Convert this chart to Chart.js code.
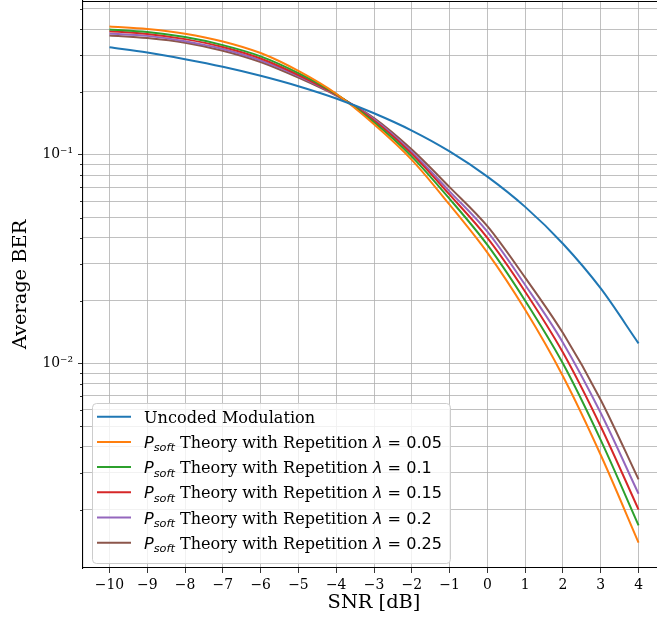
<!DOCTYPE html>
<html>
<head>
<meta charset="utf-8">
<script src="https://cdn.jsdelivr.net/npm/chart.js@4"></script>
<style>
  html, body { margin: 0; padding: 0; background: #fff; overflow: hidden; }
  #wrap { width: 657px; height: 619px; overflow: hidden; }
</style>
</head>
<body>
<div id="wrap"><canvas id="berChart" width="680" height="619"></canvas></div>
<script>
const snr = [-10, -9, -8, -7, -6, -5, -4, -3, -2, -1, 0, 1, 2, 3, 4];
const snrTicks = [-10, -9, -8, -7, -6, -5, -4, -3, -2, -1, 0, 1, 2, 3, 4];

const uncoded = [0.327, 0.309, 0.287, 0.264, 0.239, 0.213, 0.186, 0.158, 0.1306, 0.1038, 0.0786, 0.0563, 0.0375, 0.0229, 0.0125];

const lambdas = [0.05, 0.1, 0.15, 0.2, 0.25];
const soft005 = [0.411, 0.400, 0.380, 0.349, 0.307, 0.252, 0.196, 0.140, 0.0946, 0.0577, 0.0340, 0.0181, 0.0087, 0.00365, 0.00139];
const soft010 = [0.398, 0.387, 0.366, 0.335, 0.296, 0.246, 0.195, 0.143, 0.098, 0.0615, 0.0370, 0.0200, 0.0100, 0.0043, 0.00168];
const soft015 = [0.390, 0.379, 0.358, 0.328, 0.289, 0.241, 0.194, 0.146, 0.101, 0.0644, 0.0400, 0.0221, 0.0113, 0.0050, 0.0020];
const soft020 = [0.381, 0.371, 0.350, 0.321, 0.283, 0.238, 0.193, 0.148, 0.103, 0.0668, 0.0428, 0.0238, 0.0126, 0.0058, 0.00238];
const soft025 = [0.373, 0.362, 0.344, 0.315, 0.278, 0.234, 0.192, 0.150, 0.106, 0.0700, 0.0455, 0.0258, 0.0140, 0.0067, 0.00279];

const yDecades = [0.001, 0.01, 0.1];
const yMantissas = [1, 2, 3, 4, 5, 6, 7, 8, 9];
const yMin = 0.00105, yMax = 0.545;

const colors = ['#1f77b4', '#ff7f0e', '#2ca02c', '#d62728', '#9467bd', '#8c564b'];
const serif = "'DejaVu Serif', serif";
const sans = "'DejaVu Sans', sans-serif";

const supDigits = { '-': '\u207b', '0': '\u2070', '1': '\u00b9', '2': '\u00b2', '3': '\u00b3' };
function powLabel(v) {
  const e = Math.round(Math.log10(v));
  return '10' + String(e).split('').map(c => supDigits[c]).join('');
}
function isDecade(v) {
  const e = Math.log10(v);
  return Math.abs(e - Math.round(e)) < 1e-9;
}

// every 1..9 x 10^k inside the axis range
const yTickValues = [];
yDecades.forEach(d => yMantissas.forEach(m => {
  const v = +(m * d).toPrecision(3);
  if (v >= yMin && v <= yMax) yTickValues.push(v);
}));

const seriesList = [uncoded, soft005, soft010, soft015, soft020, soft025];
const datasets = seriesList.map((vals, i) => ({
  label: i === 0 ? 'Uncoded Modulation' : 'P_soft Theory with Repetition \u03bb = ' + lambdas[i - 1],
  data: snr.map((x, j) => ({ x, y: vals[j] })),
  borderColor: colors[i],
  backgroundColor: colors[i],
  borderWidth: 2,
  pointRadius: 0,
  cubicInterpolationMode: 'monotone',
  fill: false
}));

const extras = {
  id: 'extras',
  afterDraw(chart) {
    const ctx = chart.ctx;
    const area = chart.chartArea;
    const y = chart.scales.y;
    ctx.save();

    // top spine
    ctx.strokeStyle = '#000';
    ctx.lineWidth = 1.1;
    ctx.beginPath();
    ctx.moveTo(area.left, area.top + 0.5);
    ctx.lineTo(area.right, area.top + 0.5);
    ctx.stroke();

    // short minor ticks on the log axis
    ctx.lineWidth = 0.8;
    yTickValues.filter(v => !isDecade(v)).forEach(v => {
      const py = Math.round(y.getPixelForValue(v)) + 0.5;
      ctx.beginPath();
      ctx.moveTo(area.left - 3, py);
      ctx.lineTo(area.left, py);
      ctx.stroke();
    });

    // axis titles
    ctx.fillStyle = '#000';
    ctx.font = '19.4px ' + serif;
    ctx.textAlign = 'center';
    ctx.textBaseline = 'middle';
    ctx.fillText('SNR [dB]', (area.left + area.right) / 2, 603);
    ctx.save();
    ctx.translate(21, (area.top + area.bottom) / 2);
    ctx.rotate(-Math.PI / 2);
    ctx.fillText('Average BER', 0, 0);
    ctx.restore();

    // legend with math-style labels
    const fs = 16.1;
    const rows = chart.data.datasets.map((ds, i) => {
      if (i === 0) return [{ t: 'Uncoded Modulation', f: fs + 'px ' + serif }];
      return [
        { t: 'P', f: 'italic ' + fs + 'px ' + sans },
        { t: 'soft', f: 'italic ' + (fs * 0.7) + 'px ' + sans, dy: 3.5 },
        { t: ' Theory with Repetition ', f: fs + 'px ' + serif },
        { t: '\u03bb', f: 'italic ' + fs + 'px ' + sans },
        { t: ' = ' + lambdas[i - 1], f: fs + 'px ' + sans }
      ];
    });
    const textX = 144;
    let maxW = 0;
    rows.forEach(segs => {
      let w = 0;
      segs.forEach(s => { ctx.font = s.f; w += ctx.measureText(s.t).width; });
      maxW = Math.max(maxW, w);
    });
    const bx = 92, by = 403, bw = textX + maxW + 8 - bx, bh = 160;
    ctx.beginPath();
    ctx.roundRect(bx + 0.5, by + 0.5, bw, bh, 4);
    ctx.fillStyle = 'rgba(255,255,255,0.8)';
    ctx.fill();
    ctx.strokeStyle = '#cccccc';
    ctx.lineWidth = 1;
    ctx.stroke();

    ctx.textAlign = 'left';
    ctx.textBaseline = 'alphabetic';
    rows.forEach((segs, i) => {
      const cy = 416.7 + i * 25.2;
      ctx.strokeStyle = chart.data.datasets[i].borderColor;
      ctx.lineWidth = 2;
      ctx.beginPath();
      ctx.moveTo(97, cy);
      ctx.lineTo(131, cy);
      ctx.stroke();
      let x = textX;
      ctx.fillStyle = '#000';
      segs.forEach(s => {
        ctx.font = s.f;
        ctx.fillText(s.t, x, cy + 6 + (s.dy || 0));
        x += ctx.measureText(s.t).width;
      });
    });
    ctx.restore();
  }
};

new Chart(document.getElementById('berChart'), {
  type: 'line',
  data: { datasets },
  plugins: [extras],
  options: {
    responsive: false,
    animation: false,
    layout: { padding: { top: 1, right: 15, left: 0, bottom: 0 } },
    plugins: { legend: { display: false }, tooltip: { enabled: false } },
    scales: {
      x: {
        type: 'linear',
        min: -10.7,
        max: 4.7,
        afterBuildTicks: s => { s.ticks = snrTicks.map(v => ({ value: v })); },
        afterFit: s => { s.height = 51; s.paddingLeft = 0; s.paddingRight = 0; },
        ticks: {
          autoSkip: false,
          maxRotation: 0,
          padding: 4,
          color: '#000',
          font: { family: serif, size: 13.9 },
          callback: v => (v < 0 ? '\u2212' + Math.abs(v) : String(v))
        },
        grid: { color: '#b0b0b0', lineWidth: 0.8, tickLength: 5, tickColor: '#000', tickWidth: 0.8 },
        border: { display: true, color: '#000', width: 1.1 }
      },
      y: {
        type: 'logarithmic',
        min: yMin,
        max: yMax,
        afterBuildTicks: s => { s.ticks = yTickValues.map(v => ({ value: v, major: isDecade(v) })); },
        afterFit: s => { s.width = 83; s.paddingTop = 0; s.paddingBottom = 0; },
        ticks: {
          autoSkip: false,
          padding: 5,
          color: '#000',
          font: { family: serif, size: 13.9 },
          callback: v => (isDecade(v) ? powLabel(v) : '')
        },
        grid: {
          color: '#b0b0b0',
          lineWidth: 0.8,
          tickLength: 5,
          tickWidth: 0.8,
          tickColor: c => (c.tick && isDecade(c.tick.value) ? '#000' : 'rgba(0,0,0,0)')
        },
        border: { display: true, color: '#000', width: 1.1 }
      }
    }
  }
});
</script>
</body>
</html>
